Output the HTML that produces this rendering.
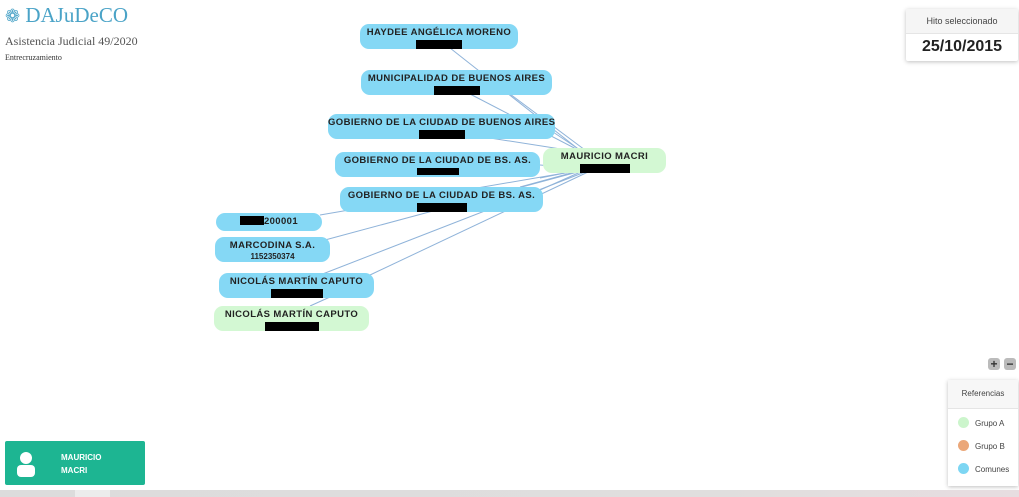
<!DOCTYPE html>
<html><head><meta charset="utf-8"><style>
body{margin:0;width:1019px;height:497px;position:relative;background:#fff;overflow:hidden;font-family:"Liberation Sans",sans-serif}
.n{position:absolute;background:#85d8f5;border-radius:9px;text-align:center;font-size:9.5px;font-weight:bold;letter-spacing:0.4px;white-space:nowrap;color:#222;box-sizing:border-box;padding-top:3px;line-height:12px}
.g{background:#d3f8d3}
.b{display:block;margin:1px auto 0;background:#000;height:9px}
</style></head><body>
<div style="position:absolute;left:5px;top:3px;font-family:'Liberation Serif',serif;font-size:21px;color:#4aa3c7"><span style="font-size:18px">❁</span> DAJuDeCO</div>
<div style="position:absolute;left:5px;top:34px;font-family:'Liberation Serif',serif;font-size:12px;color:#555">Asistencia Judicial 49/2020</div>
<div style="position:absolute;left:5px;top:53px;font-family:'Liberation Serif',serif;font-size:8px;color:#333">Entrecruzamiento</div>

<svg style="position:absolute;left:0;top:0" width="1019" height="497">
<g stroke="#8fb3d9" stroke-width="1" fill="none">
<line x1="450" y1="48" x2="582" y2="152"/>
<line x1="470" y1="94" x2="582" y2="152"/>
<line x1="510" y1="94" x2="585" y2="150"/>
<line x1="550" y1="130" x2="583" y2="152"/>
<line x1="490" y1="138" x2="580" y2="152"/>
<line x1="540" y1="165" x2="575" y2="168"/>
<line x1="540" y1="178" x2="580" y2="170"/>
<line x1="520" y1="187" x2="582" y2="170"/>
<line x1="540" y1="190" x2="585" y2="170"/>
<line x1="320" y1="215" x2="582" y2="170"/>
<line x1="325" y1="240" x2="585" y2="170"/>
<line x1="320" y1="275" x2="585" y2="172"/>
<line x1="370" y1="275" x2="588" y2="172"/>
<line x1="310" y1="306" x2="330" y2="297"/>
</g></svg>

<div class="n" style="left:360px;top:24px;width:158px;height:25px">HAYDEE ANGÉLICA MORENO<span class="b" style="width:46px"></span></div>
<div class="n" style="left:361px;top:70px;width:191px;height:25px">MUNICIPALIDAD DE BUENOS AIRES<span class="b" style="width:46px"></span></div>
<div class="n" style="left:328px;top:114px;width:227px;height:25px">GOBIERNO DE LA CIUDAD DE BUENOS AIRES<span class="b" style="width:46px"></span></div>
<div class="n" style="left:335px;top:152px;width:205px;height:25px">GOBIERNO DE LA CIUDAD DE BS. AS.<span class="b" style="width:42px;height:7px"></span></div>
<div class="n" style="left:340px;top:187px;width:203px;height:25px">GOBIERNO DE LA CIUDAD DE BS. AS.<span class="b" style="width:50px"></span></div>
<div class="n g" style="left:543px;top:148px;width:123px;height:25px">MAURICIO MACRI<span class="b" style="width:50px"></span></div>
<div class="n" style="left:216px;top:213px;width:106px;height:18px;padding-top:3px"><span style="display:inline-block;width:24px;height:9px;background:#000;vertical-align:-1px"></span>200001</div>
<div class="n" style="left:215px;top:237px;width:115px;height:25px">MARCODINA S.A.<div style="font-size:8px;line-height:10px;letter-spacing:0">1152350374</div></div>
<div class="n" style="left:219px;top:273px;width:155px;height:25px">NICOLÁS MARTÍN CAPUTO<span class="b" style="width:52px"></span></div>
<div class="n g" style="left:214px;top:306px;width:155px;height:25px">NICOLÁS MARTÍN CAPUTO<span class="b" style="width:54px"></span></div>

<div style="position:absolute;left:906px;top:9px;width:112px;height:52px;background:#fff;box-shadow:0 1px 4px rgba(0,0,0,.25);border-radius:2px">
<div style="height:24px;background:#f5f5f5;border-bottom:1px solid #e5e5e5;font-size:9px;color:#444;text-align:center;line-height:24px">Hito seleccionado</div>
<div style="font-size:16px;font-weight:bold;color:#222;text-align:center;line-height:26px">25/10/2015</div></div>

<div style="position:absolute;left:988px;top:358px;width:12px;height:12px;background:#bbb;border-radius:3px;font-size:12px;font-weight:bold;text-align:center;line-height:12px;color:#333">+</div>
<div style="position:absolute;left:1004px;top:358px;width:12px;height:12px;background:#bbb;border-radius:3px;font-size:12px;font-weight:bold;text-align:center;line-height:12px;color:#333">−</div>

<div style="position:absolute;left:948px;top:380px;width:70px;height:106px;background:#fff;box-shadow:0 1px 4px rgba(0,0,0,.25)">
<div style="height:28px;background:#f7f7f7;border-bottom:1px solid #e5e5e5;font-size:8px;color:#444;text-align:center;line-height:28px">Referencias</div>
<div style="font-size:8px;color:#444;line-height:23px;padding:3px 0 0 10px">
<div><span style="display:inline-block;width:11px;height:11px;border-radius:50%;background:#ccf5cc;vertical-align:-2px;margin-right:6px"></span>Grupo A</div>
<div><span style="display:inline-block;width:11px;height:11px;border-radius:50%;background:#eba779;vertical-align:-2px;margin-right:6px"></span>Grupo B</div>
<div><span style="display:inline-block;width:11px;height:11px;border-radius:50%;background:#7dd6f3;vertical-align:-2px;margin-right:6px"></span>Comunes</div>
</div></div>

<div style="position:absolute;left:5px;top:441px;width:140px;height:44px;background:#1db592;border-radius:2px">
<svg style="position:absolute;left:10px;top:10px" width="22" height="26"><circle cx="11" cy="7" r="6" fill="#fff"/><rect x="2" y="14" width="18" height="12" rx="4" fill="#fff"/></svg>
<div style="position:absolute;left:56px;top:10px;font-size:8px;font-weight:bold;color:#fff;line-height:13px">MAURICIO<br>MACRI</div></div>

<div style="position:absolute;left:0;top:490px;width:1019px;height:7px;background:linear-gradient(90deg,#dcdcdc,#e0dede 70%,#e7dde0)"></div>
<div style="position:absolute;left:75px;top:490px;width:35px;height:7px;background:#ececec"></div>
</body></html>
